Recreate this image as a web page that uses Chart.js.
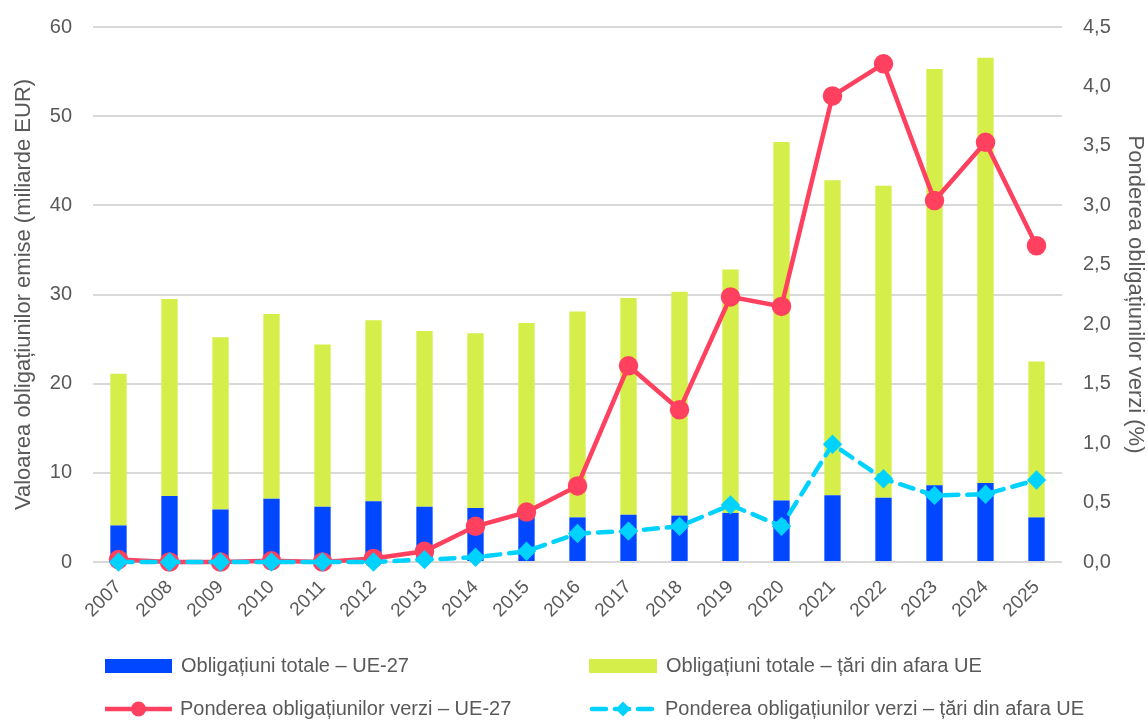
<!DOCTYPE html>
<html>
<head>
<meta charset="utf-8">
<script src="https://cdn.jsdelivr.net/npm/chart.js@4.4.1/dist/chart.umd.min.js"></script>
<style>
  html, body { margin: 0; padding: 0; background: #ffffff; }
  #wrap { width: 1148px; height: 720px; position: relative; }
</style>
</head>
<body>
<div id="wrap"><canvas id="chart" width="1148" height="720"></canvas></div>
<script>
// Years on the category axis
const years = ['2007','2008','2009','2010','2011','2012','2013','2014','2015','2016',
               '2017','2018','2019','2020','2021','2022','2023','2024','2025'];

// Issued bond value, billion EUR (stacked)
const totalEU27 = [4.1, 7.4, 5.9, 7.1, 6.2, 6.8, 6.2, 6.05, 5.6, 5.0,
                   5.3, 5.2, 5.5, 6.9, 7.5, 7.2, 8.6, 8.85, 5.0];
const totalNonEU = [17.0, 22.1, 19.3, 20.7, 18.2, 20.3, 19.7, 19.6, 21.2, 23.1,
                    24.3, 25.1, 27.3, 40.2, 35.3, 35.0, 46.7, 47.7, 17.5];

// Share of green bonds, % (right axis)
const greenShareEU27 = [0.02, 0.0, 0.0, 0.01, 0.0, 0.03, 0.09, 0.30, 0.42, 0.64,
                        1.65, 1.28, 2.23, 2.15, 3.92, 4.19, 3.04, 3.53, 2.66];
const greenShareNonEU = [0.0, 0.0, 0.0, 0.0, 0.0, 0.0, 0.02, 0.04, 0.09, 0.24,
                         0.26, 0.30, 0.48, 0.30, 0.99, 0.70, 0.56, 0.57, 0.69];

const seriesNames = [
  'Obligațiuni totale – UE-27',
  'Obligațiuni totale – țări din afara UE',
  'Ponderea obligațiunilor verzi – UE-27',
  'Ponderea obligațiunilor verzi – țări din afara UE'
];

const BLUE = '#0047ff';
const GREEN = '#d5ee49';
const RED = '#ff405f';
const CYAN = '#00d2ff';
const TEXT = '#595959';
const GRID = '#d9d9d9';
const FONT = "'Liberation Sans', Arial, sans-serif";

// Two-column legend drawn under the axis
const bottomLegend = {
  id: 'bottomLegend',
  afterDraw(chart) {
    const ctx = chart.ctx;
    const ds = chart.data.datasets;
    const items = [
      { ds: ds[0], x: 105, w: 67, y: 666, kind: 'box' },
      { ds: ds[1], x: 589, w: 68, y: 666, kind: 'box' },
      { ds: ds[2], x: 105, w: 67, y: 709, kind: 'line' },
      { ds: ds[3], x: 589, w: 68, y: 709, kind: 'line' }
    ];
    ctx.save();
    items.forEach(it => {
      const d = it.ds;
      if (it.kind === 'box') {
        ctx.fillStyle = d.backgroundColor;
        ctx.fillRect(it.x, it.y - 7, it.w, 14);
      } else {
        ctx.strokeStyle = d.borderColor;
        ctx.lineWidth = d.borderWidth;
        ctx.lineCap = d.borderDash ? 'round' : 'butt';
        ctx.setLineDash(d.borderDash || []);
        ctx.beginPath();
        ctx.moveTo(it.x + (d.borderDash ? 3 : 0), it.y);
        ctx.lineTo(it.x + it.w - (d.borderDash ? 3 : 0), it.y);
        ctx.stroke();
        ctx.setLineDash([]);
        ctx.fillStyle = d.pointBackgroundColor;
        const cx = it.x + it.w / 2;
        if (d.pointStyle === 'rectRot') {
          const r = d.pointRadius + 1;
          ctx.beginPath();
          ctx.moveTo(cx, it.y - r);
          ctx.lineTo(cx + r, it.y);
          ctx.lineTo(cx, it.y + r);
          ctx.lineTo(cx - r, it.y);
          ctx.closePath();
          ctx.fill();
        } else {
          ctx.beginPath();
          ctx.arc(cx, it.y, d.pointRadius, 0, Math.PI * 2);
          ctx.fill();
        }
      }
      ctx.fillStyle = TEXT;
      ctx.font = '20px ' + FONT;
      ctx.textAlign = 'left';
      ctx.textBaseline = 'middle';
      ctx.fillText(d.label, it.x + it.w + (it.kind === 'box' ? 9 : 8), it.y);
    });
    ctx.restore();
  }
};

const decimalComma = v => Number(v).toFixed(1).replace('.', ',');

new Chart(document.getElementById('chart'), {
  data: {
    labels: years,
    datasets: [
      {
        type: 'bar', label: seriesNames[0], data: totalEU27,
        backgroundColor: BLUE, stack: 'issued', yAxisID: 'y', order: 3,
        barPercentage: 0.32, categoryPercentage: 1
      },
      {
        type: 'bar', label: seriesNames[1], data: totalNonEU,
        backgroundColor: GREEN, stack: 'issued', yAxisID: 'y', order: 3,
        barPercentage: 0.32, categoryPercentage: 1
      },
      {
        type: 'line', label: seriesNames[2], data: greenShareEU27,
        borderColor: RED, backgroundColor: RED, pointBackgroundColor: RED,
        pointBorderColor: RED, borderWidth: 4.5, pointRadius: 7.5,
        pointStyle: 'circle', yAxisID: 'y1', order: 2, clip: false, tension: 0
      },
      {
        type: 'line', label: seriesNames[3], data: greenShareNonEU,
        borderColor: CYAN, backgroundColor: CYAN, pointBackgroundColor: CYAN,
        pointBorderColor: CYAN, borderWidth: 4.5, borderDash: [14, 9],
        borderCapStyle: 'round', pointRadius: 6.5,
        pointStyle: 'rectRot', yAxisID: 'y1', order: 1, clip: false, tension: 0
      }
    ]
  },
  options: {
    responsive: false,
    animation: false,
    layout: { padding: { top: 27, left: 0, right: 0, bottom: 0 } },
    plugins: {
      legend: { display: false },
      tooltip: { enabled: false }
    },
    scales: {
      x: {
        stacked: true,
        offset: true,
        grid: { display: false },
        border: { display: false },
        ticks: {
          color: TEXT, font: { family: FONT, size: 19 },
          minRotation: 45, maxRotation: 45, padding: 6, autoSkip: false
        },
        afterFit(scale) { scale.height = 158; }
      },
      y: {
        position: 'left',
        stacked: true,
        min: 0, max: 60,
        ticks: { stepSize: 10, color: TEXT, font: { family: FONT, size: 20 }, padding: 21 },
        grid: { color: GRID, lineWidth: 2, drawTicks: false },
        border: { display: false },
        title: {
          display: true, text: 'Valoarea obligațiunilor emise (miliarde EUR)',
          color: TEXT, font: { family: FONT, size: 22 }, padding: { top: 11, bottom: 0 }
        },
        afterFit(scale) { scale.width = 93; scale.paddingTop = 0; scale.paddingBottom = 0; }
      },
      y1: {
        position: 'right',
        min: 0, max: 4.5,
        ticks: { stepSize: 0.5, color: TEXT, font: { family: FONT, size: 20 }, padding: 21,
                 callback: decimalComma },
        grid: { display: false, drawTicks: false },
        border: { display: false },
        title: {
          display: true, text: 'Ponderea obligațiunilor verzi (%)',
          color: TEXT, font: { family: FONT, size: 22 }, padding: { top: 0, bottom: 0 }
        },
        afterFit(scale) { scale.width = 86; scale.paddingTop = 0; scale.paddingBottom = 0; }
      }
    }
  },
  plugins: [bottomLegend]
});
</script>
</body>
</html>
